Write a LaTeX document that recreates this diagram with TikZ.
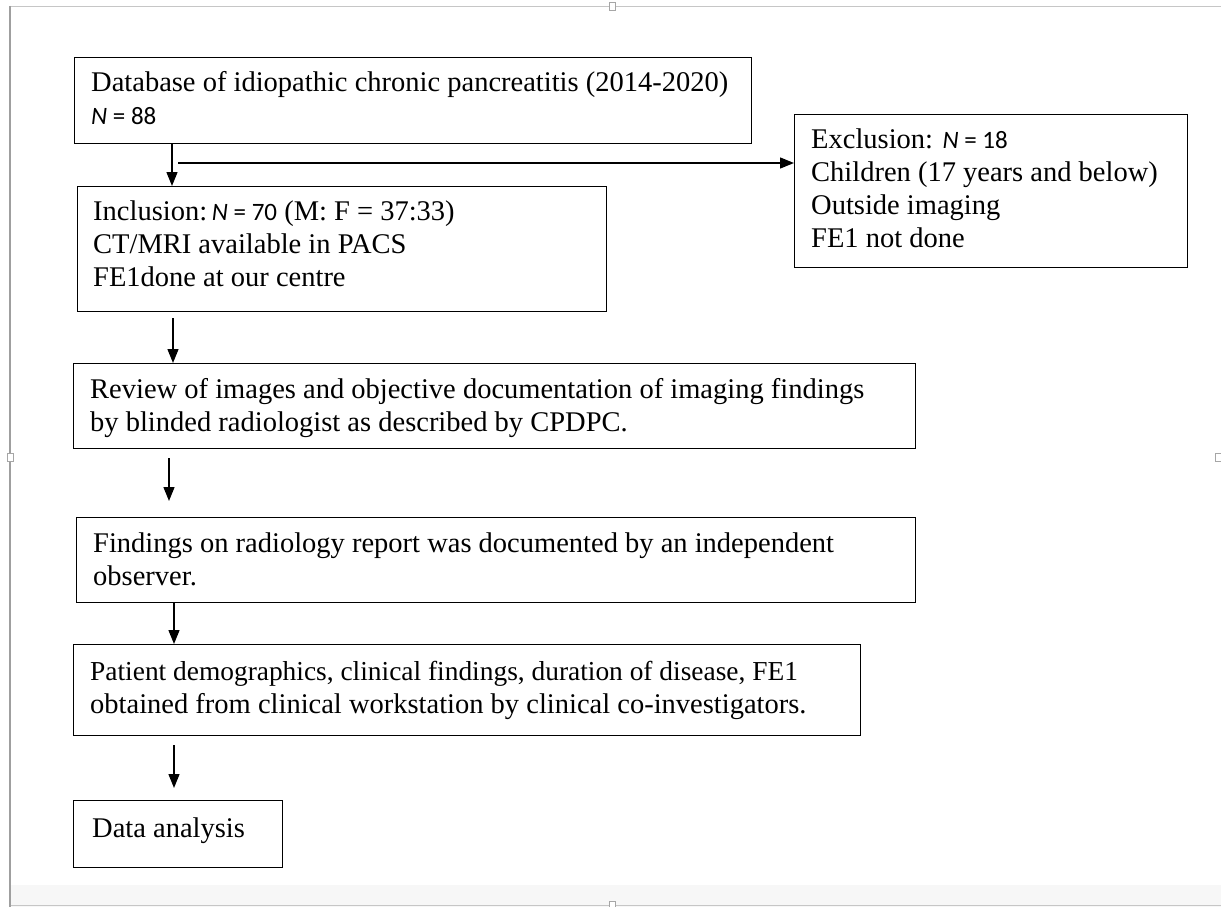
\documentclass[tikz,border=0pt]{standalone}
\usepackage{fontspec}
\setmainfont{Liberation Serif}
\newfontfamily\calibfont{Carlito}
\usetikzlibrary{arrows.meta}
\newcommand{\nval}[1]{{\calibfont\fontsize{25}{33}\selectfont\textit{N} = #1}}
\tikzset{
  box/.style={draw, line width=1.4pt, rectangle, inner sep=0pt, anchor=north west},
  txt/.style={anchor=north west, inner sep=0pt, align=left, font=\fontsize{28.5}{33}\selectfont},
  arr/.style={line width=1.4pt, -{Triangle[width=11pt,length=14pt]}},
  handle/.style={draw=gray!70, fill=white, line width=0.6pt, minimum width=6pt, minimum height=8pt, inner sep=0pt},
}

\begin{document}
\begin{tikzpicture}[x=1pt,y=-1pt]
\useasboundingbox (0,0) rectangle (1221,907);
% page frame
\fill[gray!6] (10,885) rectangle (1221,907);
\draw[gray!45, line width=0.8pt] (10,6) -- (1221,6);
\draw[gray!45, line width=0.8pt] (10,905) -- (1221,905);
\draw[gray!75, line width=1.8pt] (10,6) -- (10,907);
\node[handle] (h1) at (612,6) {};
\node[handle] (h2) at (612,905) {};
\node[handle] (h3) at (10,457) {};
\node[handle] (h4) at (1218,457) {};
% boxes
\node[box, minimum width=677pt, minimum height=86pt] (db) at (74,57) {};
\node[box, minimum width=393pt, minimum height=153pt] (excl) at (794,114) {};
\node[box, minimum width=529pt, minimum height=125pt] (inc) at (77,186) {};
\node[box, minimum width=842pt, minimum height=85pt] (rev) at (73,363) {};
\node[box, minimum width=839pt, minimum height=85pt] (find) at (76,517) {};
\node[box, minimum width=787pt, minimum height=91pt] (pat) at (73,644) {};
\node[box, minimum width=209pt, minimum height=67pt] (data) at (73,800) {};
% texts
\node[txt] (dbtext) at (91,67.9) {\strut Database of idiopathic chronic pancreatitis (2014-2020)\\\nval{88}};
\node[txt] (excltext) at (811,124.9) {\strut Exclusion: \nval{18}\\Children (17 years and below)\\Outside imaging\\FE1 not done};
\node[txt] (inctext) at (93,196.9) {\strut Inclusion:\,\nval{70} (M: F = 37:33)\\CT/MRI available in PACS\\FE1done at our centre};
\node[txt] (revtext) at (90,374.9) {\strut Review of images and objective documentation of imaging findings\\by blinded radiologist as described by CPDPC.};
\node[txt] (findtext) at (93,528.9) {\strut Findings on radiology report was documented by an independent\\observer.};
\node[txt] (pattext) at (90,656.9) {\strut {\fontsize{27.4}{33}\selectfont Patient demographics, clinical findings, duration of disease, FE1}\\obtained from clinical workstation by clinical co-investigators.};
\node[txt] (datatext) at (92,813.9) {\strut Data analysis};
% arrows
\coordinate (split) at (178,163);
\draw[arr] ([xshift=98pt]db.south west) -- ([xshift=95pt]inc.north west);
\draw[arr] (split) -- (split -| excl.west);
\draw[arr] ([shift={(96,6)}]inc.south west) -- ([xshift=100pt]rev.north west);
\draw[arr] ([shift={(96,9)}]rev.south west) -- ([shift={(93,-16)}]find.north west);
\draw[arr] ([xshift=98pt]find.south west) -- ([xshift=101pt]pat.north west);
\draw[arr] ([shift={(101,9)}]pat.south west) -- ([shift={(101,-12)}]data.north west);
\end{tikzpicture}
\end{document}
